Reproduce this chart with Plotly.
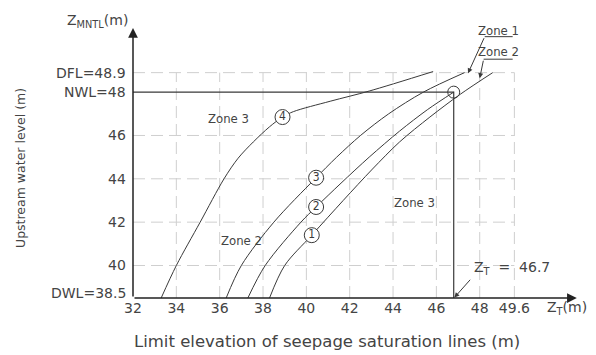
import plotly.graph_objects as go

# ---------------- data ----------------
x_ticks = [32, 34, 36, 38, 40, 42, 44, 46, 48, 49.6]
x_ticklabels = ["32", "34", "36", "38", "40", "42", "44", "46", "48", "49.6"]
y_ticks = [38.5, 40, 42, 44, 46, 48, 48.9]
y_ticklabels = ["DWL=38.5", "40", "42", "44", "46", "NWL=48", "DFL=48.9"]

x_grid = [34, 36, 38, 40, 42, 44, 46, 48, 49.6]
y_grid = [40, 42, 44, 46, 48.9]

DWL, NWL, DFL = 38.5, 48.0, 48.9
ZT_label = 46.7
ZT_pos = 46.8

c1_x = [38.3, 39.0, 40.25, 41.7, 43.05, 44.3, 45.7, 47.1, 48.6]
c1_y = [38.5, 40.0, 41.4, 43.0, 44.45, 45.7, 46.85, 47.9, 48.9]
c2_x = [37.3, 38.1, 39.75, 40.45, 41.6, 42.9, 44.3, 45.6, 46.8]
c2_y = [38.5, 40.0, 42.0, 42.7, 43.8, 45.0, 46.2, 47.2, 48.0]
c3_x = [36.3, 37.0, 38.5, 40.4, 41.4, 42.5, 43.8, 45.4, 47.3]
c3_y = [38.5, 40.0, 42.0, 44.0, 45.0, 46.0, 47.0, 48.0, 48.9]
c4_x = [33.3, 34.0, 35.1, 36.2, 36.85, 37.55, 38.3, 38.9, 39.4, 41.1, 42.9, 45.85]
c4_y = [38.5, 40.0, 42.0, 44.0, 44.95, 45.7, 46.4, 46.85, 47.1, 47.58, 48.05, 48.95]

label_names = ["1", "2", "3", "4"]
label_x = [40.25, 40.45, 40.45, 38.9]
label_y = [41.4, 42.7, 44.05, 46.85]

LC = "#3a3a3a"
GC = "#cfcfcf"
TC = "#444"
FONT = "DejaVu Sans, Liberation Sans, sans-serif"
NARROW = "Liberation Sans Narrow, DejaVu Sans Condensed, Liberation Sans, sans-serif"

fig = go.Figure()

# grid (dashed, limited to the chart box)
for gx in x_grid:
    fig.add_trace(go.Scatter(x=[gx, gx], y=[DWL, DFL], mode="lines",
                             line=dict(color=GC, width=1, dash="12px,6px"),
                             hoverinfo="skip", showlegend=False))
for gy in y_grid:
    fig.add_trace(go.Scatter(x=[x_ticks[0], x_grid[-1]], y=[gy, gy], mode="lines",
                             line=dict(color=GC, width=1, dash="12px,6px"),
                             hoverinfo="skip", showlegend=False))

# NWL horizontal + ZT vertical
fig.add_trace(go.Scatter(x=[x_ticks[0], ZT_pos, ZT_pos], y=[NWL, NWL, DWL], mode="lines",
                         line=dict(color=LC, width=1.2), hoverinfo="skip", showlegend=False))

# saturation curves
for cx, cy in [(c1_x, c1_y), (c2_x, c2_y), (c3_x, c3_y), (c4_x, c4_y)]:
    fig.add_trace(go.Scatter(x=cx, y=cy, mode="lines",
                             line=dict(color=LC, width=1, shape="spline", smoothing=0.9),
                             hoverinfo="skip", showlegend=False))

# intersection circle
fig.add_trace(go.Scatter(x=[ZT_pos], y=[NWL], mode="markers",
                         marker=dict(size=12, color="rgba(0,0,0,0)", line=dict(color=LC, width=1)),
                         hoverinfo="skip", showlegend=False))

# numbered circles
fig.add_trace(go.Scatter(x=label_x, y=label_y, mode="markers+text", text=label_names,
                         textposition="middle center",
                         textfont=dict(family=NARROW, size=12, color=LC),
                         marker=dict(size=15, color="white", line=dict(color=LC, width=1)),
                         hoverinfo="skip", showlegend=False))

ann = []
# y tick labels
for v, t in zip(y_ticks, y_ticklabels):
    ann.append(dict(x=0, y=v, xref="paper", yref="y", xanchor="right", yanchor="middle",
                    xshift=-5, yshift=5 if v == DWL else 0, text=t, showarrow=False,
                    font=dict(family=FONT, size=14, color=TC)))
# axes with arrows
ann.append(dict(x=52.48, y=DWL, ax=32, ay=DWL, xref="x", yref="y", axref="x", ayref="y",
                text="", showarrow=True, arrowhead=2, arrowsize=1.3, arrowwidth=1.5, arrowcolor="#222"))
ann.append(dict(x=32, y=50.96, ax=32, ay=DWL, xref="x", yref="y", axref="x", ayref="y",
                text="", showarrow=True, arrowhead=2, arrowsize=1.3, arrowwidth=1.5, arrowcolor="#222"))
# axis names
ann.append(dict(x=0, y=51.3, xref="paper", yref="y", xanchor="right", xshift=-3, yanchor="middle",
                text="Z<sub>MNTL</sub>(m)", showarrow=False, font=dict(family=FONT, size=14, color=TC)))
ann.append(dict(x=0.970, y=-0.037, xref="paper", yref="paper", xanchor="center", yanchor="middle",
                text="Z<sub>T</sub>(m)", showarrow=False, font=dict(family=FONT, size=14, color=TC)))
ann.append(dict(x=0.434, y=-0.1547, xref="paper", yref="paper", xanchor="center", yanchor="middle",
                text="Limit elevation of seepage saturation lines (m)", showarrow=False,
                font=dict(family=FONT, size=16.5, color=TC)))
ann.append(dict(x=-0.2528, y=0.4676, xref="paper", yref="paper", xanchor="center", yanchor="middle",
                textangle=-90, text="Upstream water level (m)", showarrow=False,
                font=dict(family=FONT, size=12.5, color=TC)))
# zone labels
for zx, zy, zt in [(36.4, 46.79, "Zone 3"), (37.02, 41.17, "Zone 2"), (45.0, 42.9, "Zone 3"),
                   (48.88, 50.84, "Zone 1"), (48.88, 49.88, "Zone 2")]:
    ann.append(dict(x=zx, y=zy, xref="x", yref="y", text=zt, showarrow=False,
                    font=dict(family=NARROW, size=13, color=TC)))
# leaders for Zone 1 / Zone 2
for (ux0, ux1, uy, tx, ty) in [(48.23, 49.52, 50.56, 47.46, 48.87), (48.18, 49.52, 49.52, 48.0, 48.64)]:
    fig.add_trace(go.Scatter(x=[ux1, ux0], y=[uy, uy], mode="lines",
                             line=dict(color=LC, width=1), hoverinfo="skip", showlegend=False))
    ann.append(dict(x=tx, y=ty, ax=ux0, ay=uy, xref="x", yref="y", axref="x", ayref="y",
                    text="", showarrow=True, arrowhead=2, arrowsize=1, arrowwidth=1, arrowcolor=LC))
# ZT label
ann.append(dict(x=ZT_pos + 0.03, y=DWL + 0.02, ax=47.62, ay=39.41, xref="x", yref="y", axref="x", ayref="y",
                text="", showarrow=True, arrowhead=2, arrowsize=1, arrowwidth=1, arrowcolor=LC))
ann.append(dict(x=47.65, y=39.88, xref="x", yref="y", xanchor="left", yanchor="middle",
                text="Z<sub>T</sub>  =  %g" % ZT_label, showarrow=False,
                font=dict(family=FONT, size=14, color=TC)))

# page body has an 8px margin, so the figure is 8px smaller than the window
W, H = 588, 347
L, R, T, B = 125, 16, 12, 57
scale = 21.67
fig.update_layout(
    width=W, height=H, margin=dict(l=L, r=R, t=T, b=B, autoexpand=False),
    plot_bgcolor="white", paper_bgcolor="white",
    annotations=ann, showlegend=False,
    xaxis=dict(range=[32, 32 + (W - L - R) / scale], tickvals=x_ticks, ticktext=x_ticklabels,
               showgrid=False, zeroline=False, showline=False, ticks="",
               tickfont=dict(family=FONT, size=14, color=TC), fixedrange=True),
    yaxis=dict(range=[DWL, DWL + (H - T - B) / scale], showticklabels=False,
               showgrid=False, zeroline=False, showline=False, ticks="", fixedrange=True),
)

fig.write_html("out.html")
